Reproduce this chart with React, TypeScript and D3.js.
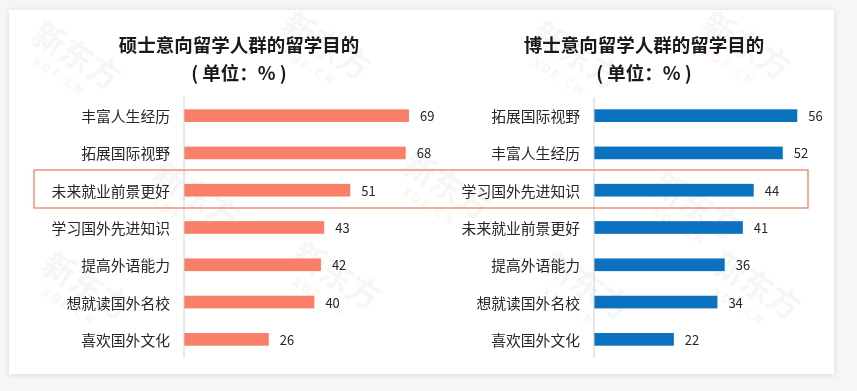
import React from "react";
import * as d3 from "d3";

const W = 857;
const H = 391;

const masterTitle = "硕士意向留学人群的留学目的";
const phdTitle = "博士意向留学人群的留学目的";
const unitLabel = "( 单位：% )";

const masterCategories = ["丰富人生经历", "拓展国际视野", "未来就业前景更好", "学习国外先进知识", "提高外语能力", "想就读国外名校", "喜欢国外文化"];
const masterValues = [69, 68, 51, 43, 42, 40, 26];

const phdCategories = ["拓展国际视野", "丰富人生经历", "学习国外先进知识", "未来就业前景更好", "提高外语能力", "想就读国外名校", "喜欢国外文化"];
const phdValues = [56, 52, 44, 41, 36, 34, 22];

const FONT = "'Noto Sans CJK SC', 'Noto Sans', sans-serif";

type PanelProps = {
  title: string;
  cats: string[];
  vals: number[];
  axisX: number;
  pxPerUnit: number;
  color: string;
  titleX: number;
};

function Panel({ title, cats, vals, axisX, pxPerUnit, color, titleX }: PanelProps) {
  const y = d3.scaleBand<string>().domain(cats).range([97, 358]).paddingInner(0.66).paddingOuter(0.33);
  const x = d3.scaleLinear().domain([0, 100]).range([axisX, axisX + 100 * pxPerUnit]);
  return (
    <g>
      <text x={titleX} y={52} textAnchor="middle" fontSize={18.5} fontWeight="bold" fill="#1a1a1a" fontFamily={FONT}>
        {title}
      </text>
      <text x={titleX} y={80} textAnchor="middle" fontSize={18.5} fontWeight="bold" fill="#1a1a1a" fontFamily={FONT} style={{ whiteSpace: "pre" }}>
        {unitLabel}
      </text>
      {cats.map((c, i) => {
        const yy = y(c)!;
        const bw = y.bandwidth();
        return (
          <g key={c}>
            <rect x={x(0)} y={yy} width={x(vals[i]) - x(0)} height={bw} fill={color} />
            <text x={axisX - 14} y={yy + bw / 2} dominantBaseline="central" textAnchor="end" fontSize={14.8} fill="#262626" fontFamily={FONT}>
              {c}
            </text>
            <text x={x(vals[i]) + 11} y={yy + bw / 2} dominantBaseline="central" fontSize={13} fill="#262626" fontFamily={FONT}>
              {vals[i]}
            </text>
          </g>
        );
      })}
      <line x1={axisX} x2={axisX} y1={97} y2={358} stroke="#d0d0d0" strokeWidth={1} />
    </g>
  );
}

const wmPositions: [number, number][] = [
  [30, 40], [280, 30], [530, 40], [700, 30],
  [150, 180], [400, 170], [650, 190],
  [40, 270], [290, 260], [540, 270], [710, 270],
];

export default function App() {
  return (
    <svg width={W} height={H} style={{ position: "absolute", left: 0, top: 0 }} fontFamily={FONT}>
      <defs>
        <filter id="shadow" x="-5%" y="-5%" width="110%" height="110%">
          <feDropShadow dx="0" dy="1" stdDeviation="3" floodColor="#000" floodOpacity="0.12" />
        </filter>
      </defs>
      <rect x={0} y={0} width={W} height={H} fill="#f6f6f6" />
      <rect x={9} y={10} width={825} height={364} fill="#ffffff" filter="url(#shadow)" />
      <g opacity={0.35}>
        {wmPositions.map(([wx, wy], i) => (
          <g key={i} transform={`translate(${wx},${wy}) rotate(32)`}>
            <text x={0} y={0} fontSize={32} fontWeight="bold" fill="#dfe7e3" fontFamily={FONT}>新东方</text>
            <text x={14} y={20} fontSize={12} fontWeight="bold" fill="#fcdccb" fontFamily={FONT} letterSpacing={3}>XDF.CN</text>
          </g>
        ))}
      </g>
      <Panel title={masterTitle} cats={masterCategories} vals={masterValues} axisX={184} pxPerUnit={3.26} color="#fa7f69" titleX={239} />
      <Panel title={phdTitle} cats={phdCategories} vals={phdValues} axisX={594} pxPerUnit={3.63} color="#0b72bf" titleX={644} />
      <rect x={34} y={170} width={774} height={38} fill="none" stroke="#f27e68" strokeWidth={1.3} />
    </svg>
  );
}
